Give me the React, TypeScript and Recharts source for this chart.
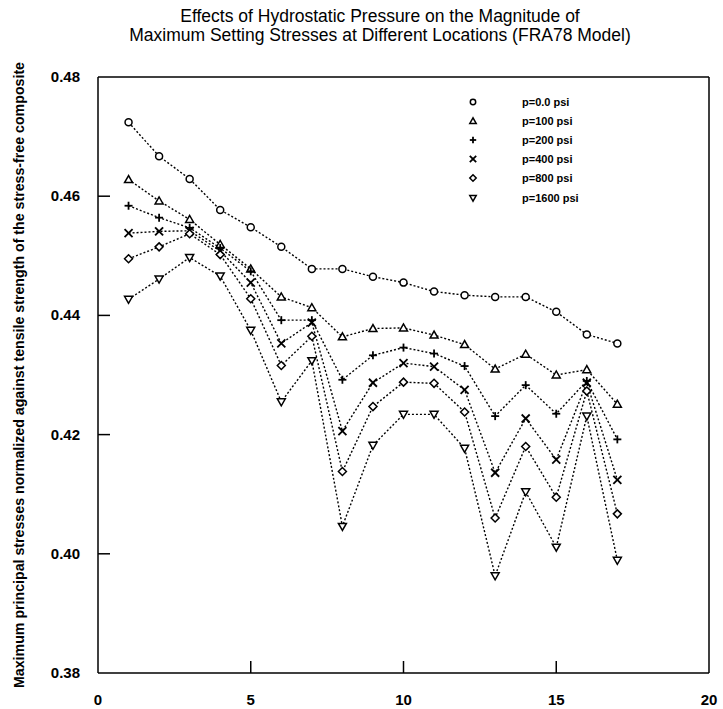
import React from 'react';
import { LineChart, Line, XAxis, YAxis, ReferenceLine } from 'recharts';

const locations = [1, 2, 3, 4, 5, 6, 7, 8, 9, 10, 11, 12, 13, 14, 15, 16, 17];

const p0 = [0.4724, 0.4667, 0.4629, 0.4577, 0.4548, 0.4515, 0.4478, 0.4478, 0.4465, 0.4455, 0.444, 0.4434, 0.4431, 0.4431, 0.4406, 0.4368, 0.4353];
const p100 = [0.4628, 0.4592, 0.4561, 0.4519, 0.4478, 0.4431, 0.4413, 0.4364, 0.4378, 0.4379, 0.4367, 0.4351, 0.431, 0.4335, 0.43, 0.4309, 0.4251];
const p200 = [0.4584, 0.4564, 0.4547, 0.4513, 0.4474, 0.4392, 0.4392, 0.4292, 0.4333, 0.4346, 0.4336, 0.4315, 0.4231, 0.4283, 0.4235, 0.429, 0.4192];
const p400 = [0.4538, 0.4541, 0.4542, 0.4508, 0.4455, 0.4353, 0.4388, 0.4206, 0.4287, 0.432, 0.4314, 0.4275, 0.4136, 0.4227, 0.4158, 0.4287, 0.4124];
const p800 = [0.4495, 0.4515, 0.4537, 0.4502, 0.4428, 0.4316, 0.4365, 0.4138, 0.4247, 0.4288, 0.4286, 0.4238, 0.406, 0.418, 0.4095, 0.4273, 0.4067];
const p1600 = [0.4427, 0.4461, 0.4497, 0.4466, 0.4375, 0.4255, 0.4324, 0.4046, 0.4182, 0.4234, 0.4234, 0.4177, 0.3963, 0.4104, 0.4011, 0.4231, 0.3989];

const xTicks = [0, 5, 10, 15, 20];
const yTicks = [0.38, 0.4, 0.42, 0.44, 0.46, 0.48];

const seriesNames = ['p=0.0 psi', 'p=100 psi', 'p=200 psi', 'p=400 psi', 'p=800 psi', 'p=1600 psi'];
const seriesKeys = ['p0', 'p100', 'p200', 'p400', 'p800', 'p1600'];
const markers = ['circle', 'triangle', 'plus', 'cross', 'diamond', 'triangleDown'];

const data = locations.map((x, i) => ({
  x,
  p0: p0[i],
  p100: p100[i],
  p200: p200[i],
  p400: p400[i],
  p800: p800[i],
  p1600: p1600[i],
}));

const FONT = '"Liberation Sans", Arial, Helvetica, sans-serif';

function Marker({ kind, cx, cy, s = 4 }: { kind: string; cx: number; cy: number; s?: number }) {
  const common = { fill: '#fff', stroke: '#000', strokeWidth: 1.5 };
  switch (kind) {
    case 'circle':
      return <circle cx={cx} cy={cy} r={s - 0.5} {...common} />;
    case 'triangle':
      return <polygon points={`${cx},${cy - s} ${cx - s},${cy + s * 0.75} ${cx + s},${cy + s * 0.75}`} {...common} />;
    case 'triangleDown':
      return <polygon points={`${cx},${cy + s} ${cx - s},${cy - s * 0.75} ${cx + s},${cy - s * 0.75}`} {...common} />;
    case 'diamond':
      return <polygon points={`${cx},${cy - s} ${cx + s},${cy} ${cx},${cy + s} ${cx - s},${cy}`} {...common} />;
    case 'plus':
      return (
        <g stroke="#000" strokeWidth={1.8}>
          <line x1={cx - s} y1={cy} x2={cx + s} y2={cy} />
          <line x1={cx} y1={cy - s} x2={cx} y2={cy + s} />
        </g>
      );
    default:
      return (
        <g stroke="#000" strokeWidth={1.8}>
          <line x1={cx - s} y1={cy - s} x2={cx + s} y2={cy + s} />
          <line x1={cx - s} y1={cy + s} x2={cx + s} y2={cy - s} />
        </g>
      );
  }
}

const makeDot = (kind: string) => (props: any) => {
  const { cx, cy, index } = props;
  if (cx == null || cy == null) return <g key={`d-${kind}-${index}`} />;
  return (
    <g key={`d-${kind}-${index}`}>
      <Marker kind={kind} cx={cx} cy={cy} />
    </g>
  );
};

function XTick(props: any) {
  const { x, y, payload } = props;
  const edge = payload.value === 0 || payload.value === 20;
  return (
    <g>
      {!edge && <line x1={x} y1={y} x2={x} y2={y - 12} stroke="#000" strokeWidth={1.5} />}
      <text x={x} y={y + 32} textAnchor="middle" fontSize={15} fontWeight="bold" fontFamily={FONT} fill="#000">
        {payload.value}
      </text>
    </g>
  );
}

function YTick(props: any) {
  const { x, y, payload } = props;
  const edge = payload.value === 0.38 || payload.value === 0.48;
  return (
    <g>
      {!edge && <line x1={x} y1={y} x2={x + 12} y2={y} stroke="#000" strokeWidth={1.5} />}
      <text x={x - 18} y={y + 5} textAnchor="end" fontSize={15} fontWeight="bold" fontFamily={FONT} fill="#000">
        {payload.value.toFixed(2)}
      </text>
    </g>
  );
}

function YLabel(props: any) {
  const vb = props.viewBox || {};
  const cy = (vb.y || 0) + (vb.height || 0) / 2;
  const cx = 19;
  return (
    <text
      x={cx}
      y={cy}
      transform={`rotate(-90, ${cx}, ${cy})`}
      textAnchor="middle"
      dominantBaseline="central"
      fontSize={14.2}
      fontWeight="bold"
      fontFamily={FONT}
      fill="#000"
    >
      Maximum principal stresses normalized against tensile strength of the stress-free composite
    </text>
  );
}

export default function App() {
  return (
    <div style={{ position: 'absolute', left: 0, top: 0, width: 723, height: 709, background: '#fff' }}>
      <div
        style={{
          position: 'absolute',
          left: 80,
          top: 7,
          width: 600,
          textAlign: 'center',
          fontFamily: FONT,
          fontSize: 17.5,
          lineHeight: '19px',
          color: '#000',
        }}
      >
        <div>Effects of Hydrostatic Pressure on the Magnitude of</div>
        <div>Maximum Setting Stresses at Different Locations (FRA78 Model)</div>
      </div>

      <LineChart width={723} height={709} data={data} margin={{ top: 77, right: 14, left: 0, bottom: 0 }}>
        <XAxis
          type="number"
          dataKey="x"
          domain={[0, 20]}
          ticks={xTicks}
          interval={0}
          height={36}
          tickSize={0}
          tickMargin={0}
          tickLine={false}
          axisLine={{ stroke: '#000', strokeWidth: 1.5 }}
          tick={<XTick />}
        />
        <YAxis
          type="number"
          domain={[0.38, 0.48]}
          ticks={yTicks}
          interval={0}
          width={98}
          tickSize={0}
          tickMargin={0}
          tickLine={false}
          axisLine={{ stroke: '#000', strokeWidth: 1.5 }}
          tick={<YTick />}
          label={<YLabel />}
        />
        <ReferenceLine y={0.48} stroke="#000" strokeWidth={1.5} />
        <ReferenceLine x={20} stroke="#000" strokeWidth={1.5} />
        {seriesKeys.map((k, i) => (
          <Line
            key={k}
            type="linear"
            dataKey={k}
            name={seriesNames[i]}
            stroke="#000"
            strokeWidth={1.4}
            strokeDasharray="2 2"
            dot={makeDot(markers[i])}
            activeDot={false}
            isAnimationActive={false}
          />
        ))}
      </LineChart>

      <div style={{ position: 'absolute', left: 464, top: 92, fontFamily: FONT, fontSize: 11, fontWeight: 'bold', color: '#000' }}>
        {seriesNames.map((n, i) => (
          <div key={n} style={{ display: 'flex', alignItems: 'center', height: 19.2 }}>
            <svg width={18} height={12} style={{ display: 'block' }}>
              <Marker kind={markers[i]} cx={9} cy={6} s={3.2} />
            </svg>
            <span style={{ marginLeft: 40 }}>{n}</span>
          </div>
        ))}
      </div>
    </div>
  );
}
